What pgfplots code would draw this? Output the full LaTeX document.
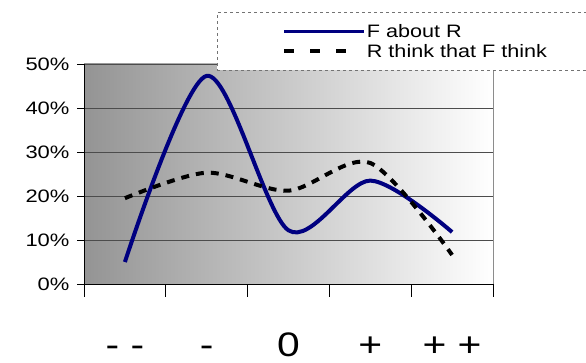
\documentclass[border=0pt]{standalone}
\usepackage{pgfplots}
\pgfplotsset{compat=1.18}
\usepackage{fontspec}
\setmainfont{Liberation Sans}
\definecolor{navyline}{RGB}{0,0,128}
\begin{document}
\begin{tikzpicture}[x=1pt,y=1pt]
\clip (0,0) rectangle (586,363);
\begin{axis}[
  at={(84pt,79pt)}, anchor=south west,
  scale only axis, width=409pt, height=220pt,
  xmin=0.5, xmax=5.5, ymin=0, ymax=50,
  axis x line*=bottom, axis y line*=left,
  axis line style={black, line width=0.8pt},
  axis background/.style={left color=black!42, right color=white, draw=black!45, line width=0.8pt},
  ymajorgrids, grid style={black!70, line width=0.8pt},
  tick align=outside,
  major tick length=7pt, minor tick length=13pt,
  tick style={black, line width=0.8pt},
  /pgf/number format/assume math mode=true,
  ytick={0,10,20,30,40,50},
  yticklabel={\scalebox{1.22}[1]{\pgfmathprintnumber{\tick}\%}},
  yticklabel style={font=\fontsize{18}{20}\selectfont, xshift=-4pt},
  xtick={1,2,3,4,5},
  xticklabels={{\scalebox{1.2}[1]{- -}},{\scalebox{1.2}[1]{-}},{\scalebox{1.2}[1]{0}},{\scalebox{1.2}[1]{+}},{\scalebox{1.2}[1]{+ +}}},
  major x tick style={draw=none},
  minor xtick={0.5,1.5,2.5,3.5,4.5,5.5},
  xticklabel style={font=\fontsize{34}{38}\selectfont, anchor=base, yshift=-66pt},
  legend style={at={(0.3252,1.2364)}, anchor=north west, draw=black!55, dashed, fill=white,
    line width=0.8pt, inner xsep=65pt, inner ysep=9pt, font=\fontsize{18}{20}\selectfont,
    nodes={inner sep=1pt, text height=15pt, text depth=3pt},
    /tikz/every even column/.append style={column sep=3pt}},
  legend cell align=left,
  clip=false,
]
\addplot[solid, navyline, line width=4pt, smooth,
  legend image code/.code={\draw[solid, navyline, line width=3pt] (0pt,0pt) -- (80pt,0pt);}]
  coordinates {(1,5) (2,47.3) (3,12.2) (4,23.5) (5,11.8)};
\addlegendentry{\scalebox{1.2}[1]{F about R}\hspace*{90pt}}
\addplot[black, line width=4pt, smooth, dash pattern=on 8pt off 7pt,
  legend image code/.code={\draw[black, line width=4pt, dash pattern=on 10pt off 16pt] (0pt,0pt) -- (66pt,0pt);}]
  coordinates {(1,19.5) (2,25.3) (3,21.2) (4,27.5) (5,6.6)};
\addlegendentry{\scalebox{1.2}[1]{R think that F think}\hspace*{90pt}}
\end{axis}
\end{tikzpicture}
\end{document}
